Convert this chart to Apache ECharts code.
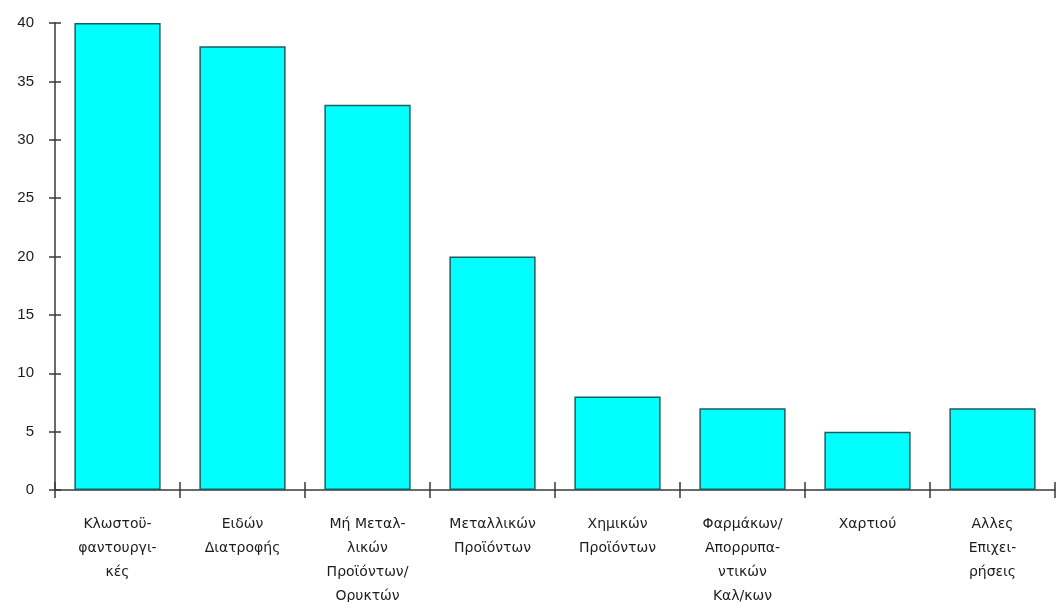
<!DOCTYPE html>
<html>
<head>
<meta charset="utf-8">
<script src="https://cdn.jsdelivr.net/npm/echarts@6/dist/echarts.min.js"></script>
<style>
  html, body { margin: 0; padding: 0; background: #fff; }
  #chart { width: 1056px; height: 602px; }
</style>
</head>
<body>
<div id="chart"></div>
<script>
// Industry sectors (x axis) and their counts
const categories = [
  'Κλωστοϋ-\nφαντουργι-\nκές',
  'Ειδών\nΔιατροφής',
  'Μή Μεταλ-\nλικών\nΠροϊόντων/\nΟρυκτών',
  'Μεταλλικών\nΠροϊόντων',
  'Χημικών\nΠροϊόντων',
  'Φαρμάκων/\nΑπορρυπα-\nντικών\nΚαλ/κων',
  'Χαρτιού',
  'Αλλες\nΕπιχει-\nρήσεις'
];
const values = [40, 38, 33, 20, 8, 7, 5, 7];
const yTicks = { min: 0, max: 40, interval: 5 };

const axisColor = '#3a3a3a';
const xText = { color: '#1c1c1c', fontFamily: 'DejaVu Sans', fontSize: 14 };
const yText = { color: '#1c1c1c', fontFamily: 'Liberation Sans', fontSize: 15 };

const chart = echarts.init(document.getElementById('chart'));
chart.setOption({
  animation: false,
  grid: { left: 55, right: 1, top: 23, bottom: 112, outerBoundsMode: 'none', containLabel: false },
  xAxis: [
    {
      type: 'category',
      data: categories,
      boundaryGap: true,
      axisLine: { lineStyle: { color: axisColor, width: 1.5 } },
      axisTick: { show: true, length: 8, lineStyle: { color: axisColor, width: 1.5 } },
      axisLabel: Object.assign({ margin: 22, lineHeight: 24, interval: 0, align: 'center' }, xText)
    },
    {
      // mirrored ticks so each tick crosses the axis line
      type: 'category',
      data: categories,
      position: 'bottom',
      boundaryGap: true,
      axisLine: { show: false },
      axisTick: { show: true, inside: true, length: 8, lineStyle: { color: axisColor, width: 1.5 } },
      axisLabel: { show: false }
    }
  ],
  yAxis: [
    {
      type: 'value',
      min: yTicks.min, max: yTicks.max, interval: yTicks.interval,
      splitLine: { show: false },
      axisLine: { show: true, lineStyle: { color: axisColor, width: 1.5 } },
      axisTick: { show: true, length: 6, lineStyle: { color: axisColor, width: 1.5 } },
      axisLabel: Object.assign({ margin: 21 }, yText)
    },
    {
      type: 'value',
      position: 'left',
      min: yTicks.min, max: yTicks.max, interval: yTicks.interval,
      splitLine: { show: false },
      axisLine: { show: false },
      axisTick: { show: true, inside: true, length: 6, lineStyle: { color: axisColor, width: 1.5 } },
      axisLabel: { show: false }
    }
  ],
  series: [{
    type: 'bar',
    data: values,
    barCategoryGap: '31%',
    itemStyle: { color: '#00FFFF', borderColor: '#1d5f60', borderWidth: 1.5 }
  }]
});
</script>
</body>
</html>
